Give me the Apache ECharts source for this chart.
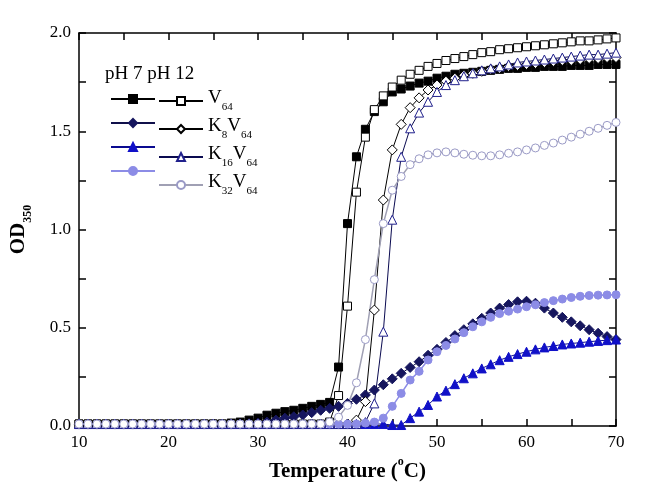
<!DOCTYPE html>
<html><head><meta charset="utf-8">
<script src="https://cdn.jsdelivr.net/npm/echarts@6/dist/echarts.min.js"></script>
<style>html,body{margin:0;padding:0;background:#fff}#c{width:650px;height:498px}</style>
</head><body><div id="c"></div>
<script>
var temps = [10,11,12,13,14,15,16,17,18,19,20,21,22,23,24,25,26,27,28,29,30,31,32,33,34,35,36,37,38,39,40,41,42,43,44,45,46,47,48,49,50,51,52,53,54,55,56,57,58,59,60,61,62,63,64,65,66,67,68,69,70];
var v64_ph7 = [0.01,0.01,0.01,0.01,0.01,0.01,0.01,0.01,0.01,0.01,0.01,0.01,0.01,0.01,0.01,0.01,0.01,
  0.015,0.02,0.03,0.04,0.055,0.065,0.073,0.08,0.09,0.10,0.11,0.12,0.30,1.03,1.37,1.51,1.60,1.65,1.70,1.715,1.73,1.745,1.755,1.77,1.78,1.79,1.795,1.80,1.805,1.81,1.815,1.82,1.82,1.825,1.825,1.83,1.83,1.83,1.835,1.835,1.835,1.84,1.84,1.84];
var v64_ph12 = [0.01,0.01,0.01,0.01,0.01,0.01,0.01,0.01,0.01,0.01,0.01,0.01,0.01,0.01,0.01,0.01,0.01,0.01,0.01,0.01,0.01,0.01,0.01,0.01,0.01,0.01,0.01,0.01,
  0.02,0.155,0.61,1.19,1.47,1.61,1.68,1.725,1.76,1.79,1.81,1.83,1.845,1.86,1.87,1.88,1.89,1.90,1.905,1.915,1.92,1.925,1.93,1.935,1.94,1.945,1.95,1.955,1.96,1.96,1.965,1.97,1.975];
var k8_ph7 = [0.01,0.01,0.01,0.01,0.01,0.01,0.01,0.01,0.01,0.01,0.01,0.01,0.01,0.01,0.01,0.01,0.01,0.01,0.01,
  0.012,0.015,0.02,0.03,0.04,0.047,0.056,0.068,0.08,0.09,0.10,0.115,0.136,0.158,0.183,0.21,0.24,0.268,0.298,0.327,0.36,0.39,0.425,0.46,0.49,0.52,0.548,0.575,0.60,0.618,0.632,0.635,0.625,0.60,0.575,0.553,0.53,0.51,0.49,0.472,0.455,0.44];
var k8_ph12 = [0.01,0.01,0.01,0.01,0.01,0.01,0.01,0.01,0.01,0.01,0.01,0.01,0.01,0.01,0.01,0.01,0.01,0.01,0.01,0.01,0.01,0.01,0.01,0.01,0.01,0.01,0.01,0.01,0.01,0.01,0.01,
  0.03,0.124,0.59,1.15,1.405,1.535,1.62,1.67,1.71,1.735,1.755,1.77,1.785,1.795,1.805,1.815,1.82,1.83,1.835,1.84,1.845,1.85,1.855,1.86,1.86,1.865,1.87,1.87,1.875,1.875];
var k16_ph7 = [0.01,0.01,0.01,0.01,0.01,0.01,0.01,0.01,0.01,0.01,0.01,0.01,0.01,0.01,0.01,0.01,0.01,0.01,0.01,0.01,0.01,0.01,0.01,0.01,0.01,0.01,0.01,0.01,0.01,0.01,0.01,0.01,0.01,0.01,0.01,
  0.005,0.005,0.04,0.073,0.107,0.15,0.18,0.213,0.243,0.268,0.293,0.314,0.335,0.352,0.366,0.378,0.39,0.40,0.407,0.415,0.42,0.424,0.429,0.433,0.437,0.44];
var k16_ph12 = [0.01,0.01,0.01,0.01,0.01,0.01,0.01,0.01,0.01,0.01,0.01,0.01,0.01,0.01,0.01,0.01,0.01,0.01,0.01,0.01,0.01,0.01,0.01,0.01,0.01,0.01,0.01,0.01,0.01,0.01,0.01,0.01,
  0.02,0.115,0.48,1.05,1.37,1.515,1.595,1.65,1.70,1.735,1.76,1.78,1.795,1.81,1.82,1.83,1.84,1.85,1.855,1.86,1.865,1.87,1.875,1.88,1.885,1.89,1.89,1.895,1.90];
var k32_ph7 = [0.01,0.01,0.01,0.01,0.01,0.01,0.01,0.01,0.01,0.01,0.01,0.01,0.01,0.01,0.01,0.01,0.01,0.01,0.01,0.01,0.01,0.01,0.01,0.01,0.01,0.01,0.01,0.01,0.01,0.01,0.01,0.01,
  0.015,0.02,0.04,0.10,0.166,0.234,0.278,0.336,0.378,0.41,0.443,0.475,0.505,0.53,0.553,0.572,0.584,0.595,0.607,0.617,0.628,0.638,0.646,0.654,0.66,0.664,0.666,0.667,0.668];
var k32_ph12 = [0.01,0.01,0.01,0.01,0.01,0.01,0.01,0.01,0.01,0.01,0.01,0.01,0.01,0.01,0.01,0.01,0.01,0.01,0.01,0.01,0.01,0.01,0.01,0.01,0.01,0.01,0.01,0.01,
  0.02,0.045,0.105,0.22,0.44,0.745,1.03,1.20,1.27,1.33,1.36,1.38,1.39,1.395,1.39,1.383,1.378,1.375,1.375,1.38,1.388,1.395,1.405,1.415,1.428,1.44,1.455,1.47,1.485,1.50,1.515,1.53,1.545];
var xTicks = [10,20,30,40,50,60,70];
var yTicks = [0.0,0.5,1.0,1.5,2.0];

var FONT = '"Liberation Serif","Times New Roman",serif';
function pairs(arr){ return temps.map(function(t,i){ return [t, arr[i]]; }); }
function mk(name, data, symbol, size, fill, stroke, line, lw){
  return { name: name, type: 'line', data: pairs(data), symbol: symbol, symbolSize: size,
    showSymbol: true, animation: false,
    itemStyle: { color: fill, borderColor: stroke, borderWidth: 1 },
    lineStyle: { color: line, width: lw || 1 },
    emphasis: { disabled: true } };
}
var series = [
  mk('V64 pH 7', v64_ph7, 'rect', 8, '#000', '#000', '#000'),
  mk('V64 pH 12', v64_ph12, 'rect', 8, '#fff', '#000', '#000'),
  mk('K8V64 pH 7', k8_ph7, 'diamond', 10, '#16165e', '#16165e', '#10104a'),
  mk('K8V64 pH 12', k8_ph12, 'diamond', 10, '#fff', '#000', '#000'),
  mk('K16V64 pH 7', k16_ph7, 'triangle', 9, '#1010c8', '#1010c8', '#0a0a90'),
  mk('K16V64 pH 12', k16_ph12, 'triangle', 9, '#fff', '#20208c', '#0a0a50'),
  mk('K32V64 pH 7', k32_ph7, 'circle', 8, '#8c8ce6', '#8c8ce6', '#8c8ce6', 1.5),
  mk('K32V64 pH 12', k32_ph12, 'circle', 8, '#fff', '#9a9ac6', '#a0a0b4', 1.5)
];
var labelMap = {
  'V64 pH 12': '{m|V}{s|64}',
  'K8V64 pH 12': '{m|K}{s|8}{m|V}{s|64}',
  'K16V64 pH 12': '{m|K}{s|16}{m|V}{s|64}',
  'K32V64 pH 12': '{m|K}{s|32}{m|V}{s|64}'
};
var legTextStyle = { fontFamily: FONT, fontSize: 19, color: '#000', lineHeight: 20,
  rich: { m: { fontFamily: FONT, fontSize: 19, lineHeight: 24, color: '#000', verticalAlign: 'top' },
          s: { fontFamily: FONT, fontSize: 11, lineHeight: 12, color: '#000', verticalAlign: 'bottom' } } };
var option = {
  backgroundColor: '#fff',
  animation: false,
  grid: { left: 78, right: 34, top: 33, bottom: 72 },
  graphic: [{ type: 'text', left: 105, top: 65, style: { text: 'pH 7 pH 12', font: '19px ' + FONT, fill: '#000' } }],
  legend: [
    { data: ['V64 pH 7','K8V64 pH 7','K16V64 pH 7','K32V64 pH 7'], orient: 'vertical', left: 105, top: 84,
      itemWidth: 44, itemHeight: 10, itemGap: 4, selectedMode: false,
      formatter: function(){ return ' '; }, textStyle: legTextStyle },
    { data: ['V64 pH 12','K8V64 pH 12','K16V64 pH 12','K32V64 pH 12'], orient: 'vertical', left: 153, top: 84,
      itemWidth: 44, itemHeight: 10, itemGap: 4, selectedMode: false,
      formatter: function(n){ return labelMap[n]; }, textStyle: legTextStyle }
  ],
  xAxis: [
    { type: 'value', min: 10, max: 70, interval: 10, position: 'bottom',
      name: '{b|Temperature (}{u|o}{b|C)}', nameLocation: 'middle', nameGap: 28,
      nameTextStyle: { rich: { b: { fontFamily: FONT, fontSize: 21, fontWeight: 'bold', color: '#000', lineHeight: 26, verticalAlign: 'bottom' },
                               u: { fontFamily: FONT, fontSize: 12, fontWeight: 'bold', color: '#000', lineHeight: 14, verticalAlign: 'top' } } },
      axisLine: { onZero: false, lineStyle: { color: '#000', width: 1.5 } },
      axisTick: { inside: true, length: 7, lineStyle: { color: '#000', width: 1.5 } },
      minorTick: { show: true, splitNumber: 2, length: 7, lineStyle: { color: '#000', width: 1.5 } },
      splitLine: { show: false },
      axisLabel: { fontFamily: FONT, fontSize: 17, color: '#000', margin: 8,
        formatter: function(v){ return xTicks.indexOf(v) >= 0 ? String(v) : ''; } } },
    { type: 'value', min: 10, max: 70, interval: 10, position: 'top',
      axisLine: { onZero: false, lineStyle: { color: '#000', width: 1.5 } },
      axisTick: { inside: true, length: 7, lineStyle: { color: '#000', width: 1.5 } },
      minorTick: { show: true, splitNumber: 2, length: 7, lineStyle: { color: '#000', width: 1.5 } },
      splitLine: { show: false }, axisLabel: { show: false } }
  ],
  yAxis: [
    { type: 'value', min: 0, max: 2, interval: 0.5, position: 'left',
      name: '{b|OD}{s|350}', nameLocation: 'middle', nameGap: 45,
      nameTextStyle: { rich: { b: { fontFamily: FONT, fontSize: 21, fontWeight: 'bold', color: '#000', lineHeight: 26, verticalAlign: 'top' },
                               s: { fontFamily: FONT, fontSize: 12, fontWeight: 'bold', color: '#000', lineHeight: 14, verticalAlign: 'bottom' } } },
      axisLine: { onZero: false, lineStyle: { color: '#000', width: 1.5 } },
      axisTick: { inside: true, length: 7, lineStyle: { color: '#000', width: 1.5 } },
      minorTick: { show: true, splitNumber: 2, length: 7, lineStyle: { color: '#000', width: 1.5 } },
      splitLine: { show: false },
      axisLabel: { fontFamily: FONT, fontSize: 17, color: '#000', margin: 8,
        formatter: function(v){ return v.toFixed(1); } } },
    { type: 'value', min: 0, max: 2, interval: 0.5, position: 'right',
      axisLine: { onZero: false, lineStyle: { color: '#000', width: 1.5 } },
      axisTick: { inside: true, length: 7, lineStyle: { color: '#000', width: 1.5 } },
      minorTick: { show: true, splitNumber: 2, length: 7, lineStyle: { color: '#000', width: 1.5 } },
      splitLine: { show: false }, axisLabel: { show: false } }
  ],
  series: series
};
var chart = echarts.init(document.getElementById('c'), null, { renderer: 'canvas' });
chart.setOption(option);
</script>
</body></html>
